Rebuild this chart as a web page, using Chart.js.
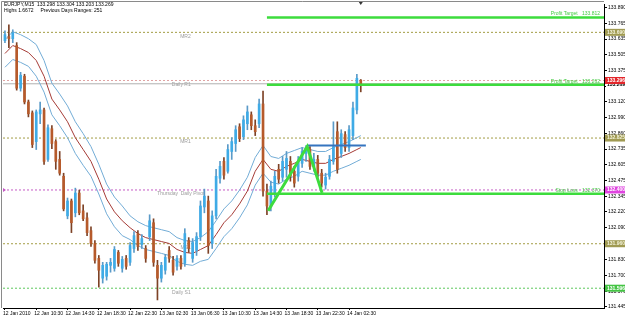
<!DOCTYPE html>
<html lang="en">
  <head>
    <meta charset="UTF-8" />
    <title>EURJPY,M15</title>
    <script src="https://cdn.jsdelivr.net/npm/chart.js"></script>
    <style>
      html,
      body {
        margin: 0;
        padding: 0;
        background: #ffffff;
      }
      canvas {
        display: block;
      }
    </style>
  </head>

  <body>
    <canvas id="chart" width="625" height="318"></canvas>

    <script>
      // OHLC of the bars
      const opens = [
        133.622, 133.655, 133.638, 133.582, 133.233, 133.331, 133.120, 133.031, 132.796, 133.023,
        133.055, 132.650, 132.901, 132.796, 132.650, 132.512, 132.188, 132.310, 132.213, 132.375,
        132.229, 132.172, 132.067, 131.962, 131.840, 131.678, 131.694, 131.783, 131.759, 131.889,
        131.759, 131.840, 131.808, 131.921, 132.043, 131.954, 131.921, 132.018, 132.132, 131.783,
        131.678, 131.743, 131.905, 131.824, 131.775, 131.840, 131.800, 131.986, 131.840, 131.905,
        132.018, 132.261, 132.310, 131.962, 132.188, 132.496, 132.634, 132.553, 132.715, 132.780,
        132.917, 132.836, 132.942, 133.015, 132.926, 132.942, 133.104, 132.391, 132.261, 132.375,
        132.569, 132.504, 132.569, 132.634, 132.553, 132.512, 132.618, 132.699, 132.731, 132.593,
        132.650, 132.537, 132.440, 132.512, 132.634, 132.877, 132.699, 132.853, 132.747, 132.845,
        133.055, 133.298,
      ];
      const highs = [
        133.703, 133.752, 133.711, 133.606, 133.363, 133.347, 133.136, 133.047, 133.055, 133.120,
        133.071, 132.934, 132.926, 132.812, 132.715, 132.537, 132.334, 132.326, 132.415, 132.399,
        132.278, 132.213, 132.099, 131.986, 131.864, 131.808, 131.808, 131.840, 131.937, 131.905,
        131.856, 131.864, 131.970, 132.059, 132.067, 132.035, 131.945, 132.197, 132.164, 131.824,
        131.808, 131.873, 131.937, 131.856, 131.864, 131.864, 132.083, 132.010, 132.002, 132.051,
        132.310, 132.407, 132.350, 132.229, 132.569, 132.634, 132.666, 132.772, 132.828, 132.926,
        132.942, 133.007, 133.088, 133.039, 132.974, 133.144, 133.209, 132.448, 132.472, 132.553,
        132.610, 132.674, 132.715, 132.674, 132.593, 132.674, 132.747, 132.764, 132.755, 132.699,
        132.683, 132.569, 132.537, 132.683, 132.958, 132.958, 132.893, 132.877, 132.926, 133.120,
        133.347, 133.304,
      ];
      const lows = [
        133.606, 133.565, 133.606, 133.217, 133.209, 133.104, 132.998, 132.747, 132.731, 132.942,
        132.610, 132.634, 132.739, 132.569, 132.521, 132.229, 132.164, 132.051, 132.180, 132.197,
        132.148, 132.026, 131.937, 131.800, 131.605, 131.638, 131.662, 131.727, 131.735, 131.775,
        131.727, 131.751, 131.783, 131.889, 131.905, 131.921, 131.808, 131.986, 131.775, 131.500,
        131.646, 131.711, 131.808, 131.702, 131.743, 131.751, 131.775, 131.889, 131.808, 131.864,
        131.986, 132.213, 131.881, 131.921, 132.164, 132.456, 132.488, 132.537, 132.650, 132.715,
        132.796, 132.812, 132.893, 132.893, 132.845, 132.909, 132.350, 132.197, 132.229, 132.342,
        132.456, 132.472, 132.504, 132.472, 132.423, 132.472, 132.585, 132.634, 132.569, 132.553,
        132.504, 132.423, 132.407, 132.488, 132.610, 132.537, 132.666, 132.715, 132.715, 132.812,
        133.023, 133.203,
      ];
      const closes = [
        133.671, 133.638, 133.687, 133.233, 133.339, 133.120, 133.023, 132.772, 133.039, 133.055,
        132.634, 132.909, 132.780, 132.634, 132.537, 132.245, 132.310, 132.132, 132.375, 132.213,
        132.164, 132.051, 131.962, 131.824, 131.743, 131.783, 131.792, 131.808, 131.913, 131.800,
        131.832, 131.775, 131.945, 132.026, 131.937, 132.002, 131.840, 132.148, 131.808, 131.678,
        131.783, 131.848, 131.840, 131.727, 131.840, 131.775, 132.043, 131.921, 131.970, 132.018,
        132.269, 132.350, 131.945, 132.188, 132.512, 132.593, 132.521, 132.731, 132.796, 132.893,
        132.820, 132.974, 133.039, 132.926, 132.877, 133.104, 132.391, 132.269, 132.431, 132.512,
        132.488, 132.634, 132.658, 132.512, 132.456, 132.634, 132.715, 132.731, 132.593, 132.650,
        132.537, 132.456, 132.504, 132.650, 132.755, 132.569, 132.861, 132.747, 132.893, 133.071,
        133.314, 133.269,
      ];

      // time axis: one label every 8 bars
      const timeTicks = [0, 8, 16, 24, 32, 40, 48, 56, 64, 72, 80, 88];
      const timeLabels = [
        "12 Jan 2010", "12 Jan 10:30", "12 Jan 14:30", "12 Jan 18:30", "12 Jan 22:30", "13 Jan 02:30",
        "13 Jan 06:30", "13 Jan 10:30", "13 Jan 14:30", "13 Jan 18:30", "13 Jan 22:30", "14 Jan 02:30",
      ];

      const priceTicks = [
        133.89, 133.765, 133.635, 133.505, 133.375, 133.25, 133.12, 132.99, 132.86, 132.735,
        132.605, 132.475, 132.345, 132.22, 132.09, 131.96, 131.83, 131.7, 131.57, 131.445,
      ];

      // moving average + envelope
      const maIdx = [
        0, 2, 4, 6, 8, 10, 12, 14, 16, 18, 20, 22, 24, 26, 28, 30, 32, 34, 36, 38, 40, 42, 44, 46,
        48, 50, 52, 54, 56, 58, 60, 62, 64, 66, 68, 70, 72, 74, 76, 78, 80, 82, 84, 86, 88, 90, 91,
      ];
      const maMid = [
        133.517, 133.582, 133.557, 133.525, 133.46, 133.331, 133.144, 133.055, 132.958, 132.828,
        132.731, 132.634, 132.488, 132.326, 132.221, 132.148, 132.091, 132.043, 132.01, 131.994,
        131.978, 131.962, 131.913, 131.889, 131.881, 131.913, 131.945, 132.035, 132.132, 132.197,
        132.286, 132.391, 132.553, 132.65, 132.569, 132.553, 132.593, 132.618, 132.65, 132.634,
        132.618, 132.618, 132.65, 132.674, 132.699, 132.731, 132.747,
      ];
      const maUpper = [
        133.63, 133.695, 133.671, 133.638, 133.59, 133.46, 133.274, 133.185, 133.088, 132.958,
        132.861, 132.755, 132.61, 132.448, 132.342, 132.269, 132.188, 132.14, 132.108, 132.091,
        132.075, 132.059, 132.01, 131.986, 131.978, 132.01, 132.059, 132.148, 132.245, 132.31,
        132.399, 132.504, 132.666, 132.764, 132.674, 132.658, 132.699, 132.723, 132.747, 132.731,
        132.715, 132.715, 132.747, 132.772, 132.796, 132.828, 132.845,
      ];
      const maLower = [
        133.404, 133.468, 133.444, 133.412, 133.331, 133.201, 133.015, 132.926, 132.828, 132.699,
        132.602, 132.512, 132.367, 132.205, 132.099, 132.026, 131.994, 131.945, 131.913, 131.897,
        131.881, 131.864, 131.816, 131.792, 131.783, 131.816, 131.832, 131.921, 132.018, 132.083,
        132.172, 132.278, 132.44, 132.537, 132.464, 132.448, 132.488, 132.512, 132.553, 132.537,
        132.521, 132.521, 132.553, 132.577, 132.602, 132.634, 132.65,
      ];

      // pivot levels
      const levelNames = ["MR2", "Daily R1", "MR1", "Thursday  Daily Pivot", "MS1", "Daily S1"];
      const levelValues = [133.69, 133.296, 132.825, 132.4, 131.96, 131.596];
      const levelColors = ["#a39d45", "#e0a4a4", "#a39d45", "#c55ac5", "#a39d45", "#5cc85c"];
      const levelBoxes = ["#a09a52", "#e3262b", "#a09a52", "#e044e0", "#a09a52", "#44c444"];
      const levelTexts = ["#f4f4dc", "#ffffff", "#f4f4dc", "#ffffff", "#f4f4dc", "#ffffff"];
      const levelLabelAt = [47.5, 47.5, 47.5, 51, 47.5, 47.5];

      const bidPrice = 133.269;

      // trade levels
      const tradeNames = ["Profit Target   133.812", "Profit Target   133.262", "Stop Loss   132.370"];
      const tradeValues = [133.812, 133.262, 132.37];
      const tradeFrom = 67;

      const zigzagIdx = [67.3, 77.3, 81.1];
      const zigzagPrice = [132.23, 132.756, 132.376];
      const channelIdx = [77.3, 92.3];
      const channelPrice = [132.764, 132.764];

      const X_MIN = -0.5;
      const X_MAX = 153.2;

      const UP = "#3fabe6";
      const DOWN = "#b65a2b";
      const UP_WICK = "#5a9ac8";
      const DOWN_WICK = "#7d4226";
      const GREEN = "#3ddc3d";
      const FONT = { family: "Arial, 'Liberation Sans', sans-serif", size: 5 };

      const isUp = (i) => closes[i] >= opens[i];

      const wickData = highs.map((h, i) => ({ x: i, y: [lows[i], h] }));
      const bodyData = opens.map((o, i) => ({ x: i, y: [o, closes[i]] }));

      function flatLine(v, from) {
        return [
          { x: from, y: v },
          { x: X_MAX, y: v },
        ];
      }

      function lineSet(data, color, width, dash, order) {
        return {
          type: "line",
          data: data,
          borderColor: color,
          borderWidth: width,
          borderDash: dash,
          pointRadius: 0,
          tension: 0,
          fill: false,
          order: order,
        };
      }

      const datasets = [];

      levelValues.forEach((v, i) => {
        datasets.push(lineSet(flatLine(v, X_MIN), levelColors[i], 1, [2, 2], 60));
      });
      datasets.push(lineSet(flatLine(bidPrice, X_MIN), "#b0b0b0", 1, [], 59));

      datasets.push(lineSet(maIdx.map((x, i) => ({ x: x, y: maUpper[i] })), "#72acd6", 1, [], 40));
      datasets.push(lineSet(maIdx.map((x, i) => ({ x: x, y: maLower[i] })), "#72acd6", 1, [], 40));
      datasets.push(lineSet(maIdx.map((x, i) => ({ x: x, y: maMid[i] })), "#a53b36", 1, [], 40));

      datasets.push({
        type: "bar",
        data: wickData,
        grouped: false,
        barThickness: 1,
        backgroundColor: (c) => (isUp(c.dataIndex) ? UP_WICK : DOWN_WICK),
        borderWidth: 0,
        order: 31,
      });
      datasets.push({
        type: "bar",
        data: bodyData,
        grouped: false,
        barThickness: 2,
        minBarLength: 1,
        backgroundColor: (c) => (isUp(c.dataIndex) ? UP : DOWN),
        borderWidth: 0,
        order: 30,
      });

      tradeValues.forEach((v) => {
        datasets.push(lineSet(flatLine(v, tradeFrom), GREEN, 2.5, [], 10));
      });
      datasets.push(lineSet(channelIdx.map((x, i) => ({ x: x, y: channelPrice[i] })), "#3574bf", 2, [], 6));
      datasets.push(lineSet(zigzagIdx.map((x, i) => ({ x: x, y: zigzagPrice[i] })), GREEN, 3, [], 5));

      // texts, axis price boxes and frame
      const overlay = {
        id: "overlay",
        beforeDatasetsDraw(chart) {
          const { ctx } = chart;
          const { x, y } = chart.scales;
          ctx.save();
          ctx.font = "5px Arial";
          ctx.fillStyle = "#9c9c9c";
          ctx.textAlign = "right";
          ctx.textBaseline = "top";
          levelNames.forEach((name, i) => {
            ctx.fillText(name, x.getPixelForValue(levelLabelAt[i]), y.getPixelForValue(levelValues[i]) + 1.5);
          });
          ctx.restore();
        },
        afterDraw(chart) {
          const { ctx, chartArea } = chart;
          const { x, y } = chart.scales;
          ctx.save();

          // frame
          ctx.strokeStyle = "#8a8a8a";
          ctx.lineWidth = 1;
          ctx.beginPath();
          ctx.moveTo(1.5, chartArea.bottom);
          ctx.lineTo(1.5, 1.5);
          ctx.lineTo(chartArea.right, 1.5);
          ctx.stroke();

          // header
          ctx.fillStyle = "#000";
          ctx.font = "5px Arial";
          ctx.textAlign = "left";
          ctx.textBaseline = "top";
          ctx.fillText("EURJPY,M15  133.298 133.304 133.203 133.269", 4, 2);
          ctx.fillText("Highs 1.6672     Previous Days Ranges: 251", 4, 8);

          // trade labels
          ctx.fillStyle = "#44cc44";
          ctx.textAlign = "right";
          ctx.textBaseline = "bottom";
          tradeNames.forEach((t, i) => {
            ctx.fillText(t, chartArea.right - 4, y.getPixelForValue(tradeValues[i]) - 1);
          });

          // bid price on the axis
          const by = y.getPixelForValue(bidPrice);
          ctx.fillStyle = "#fff";
          ctx.fillRect(chartArea.right + 2, by - 2, 19, 6);
          ctx.fillStyle = "#000";
          ctx.font = "bold 5px Arial";
          ctx.textAlign = "left";
          ctx.textBaseline = "middle";
          ctx.fillText(bidPrice.toFixed(3), chartArea.right + 3, by + 1);

          // level price boxes
          levelValues.forEach((v, i) => {
            const py = y.getPixelForValue(v);
            ctx.fillStyle = levelBoxes[i];
            ctx.fillRect(chartArea.right + 1, py - 3.5, 20, 7);
            ctx.fillStyle = levelTexts[i];
            ctx.fillText(v.toFixed(3), chartArea.right + 3, py);
          });

          // pivot arrow at the left edge
          const pv = y.getPixelForValue(levelValues[3]);
          ctx.fillStyle = levelColors[3];
          ctx.beginPath();
          ctx.moveTo(chartArea.left, pv - 2);
          ctx.lineTo(chartArea.left + 3, pv);
          ctx.lineTo(chartArea.left, pv + 2);
          ctx.closePath();
          ctx.fill();

          // shift marker above the last bar
          const lx = x.getPixelForValue(opens.length - 1);
          ctx.fillStyle = "#333";
          ctx.beginPath();
          ctx.moveTo(lx - 2, 2);
          ctx.lineTo(lx + 2, 2);
          ctx.lineTo(lx, 5);
          ctx.closePath();
          ctx.fill();

          ctx.restore();
        },
      };

      new Chart(document.getElementById("chart"), {
        type: "bar",
        data: { datasets: datasets },
        options: {
          responsive: false,
          animation: false,
          layout: { padding: { left: 3, top: 1, right: 0, bottom: 0 } },
          plugins: {
            legend: { display: false },
            tooltip: { enabled: false },
          },
          scales: {
            x: {
              type: "linear",
              min: X_MIN,
              max: X_MAX,
              offset: false,
              grid: { drawOnChartArea: false, offset: false, tickLength: 2, color: "#000" },
              border: { color: "#000" },
              ticks: {
                font: FONT,
                color: "#000",
                align: "start",
                labelOffset: -2,
                padding: 1,
                autoSkip: false,
                maxRotation: 0,
                callback: (value, index) => timeLabels[index],
              },
              afterBuildTicks: (scale) => {
                scale.ticks = timeTicks.map((v) => ({ value: v }));
              },
              afterFit: (scale) => {
                scale.height = 10;
              },
            },
            y: {
              position: "right",
              min: 131.434,
              max: 133.922,
              grid: { drawOnChartArea: false, tickLength: 3, color: "#000" },
              border: { color: "#000" },
              ticks: {
                font: FONT,
                color: "#000",
                padding: 1,
                autoSkip: false,
                callback: (value) => value.toFixed(3),
              },
              afterBuildTicks: (scale) => {
                scale.ticks = priceTicks.map((v) => ({ value: v }));
              },
              afterFit: (scale) => {
                scale.width = 21;
              },
            },
          },
        },
        plugins: [overlay],
      });
    </script>
  </body>
</html>
